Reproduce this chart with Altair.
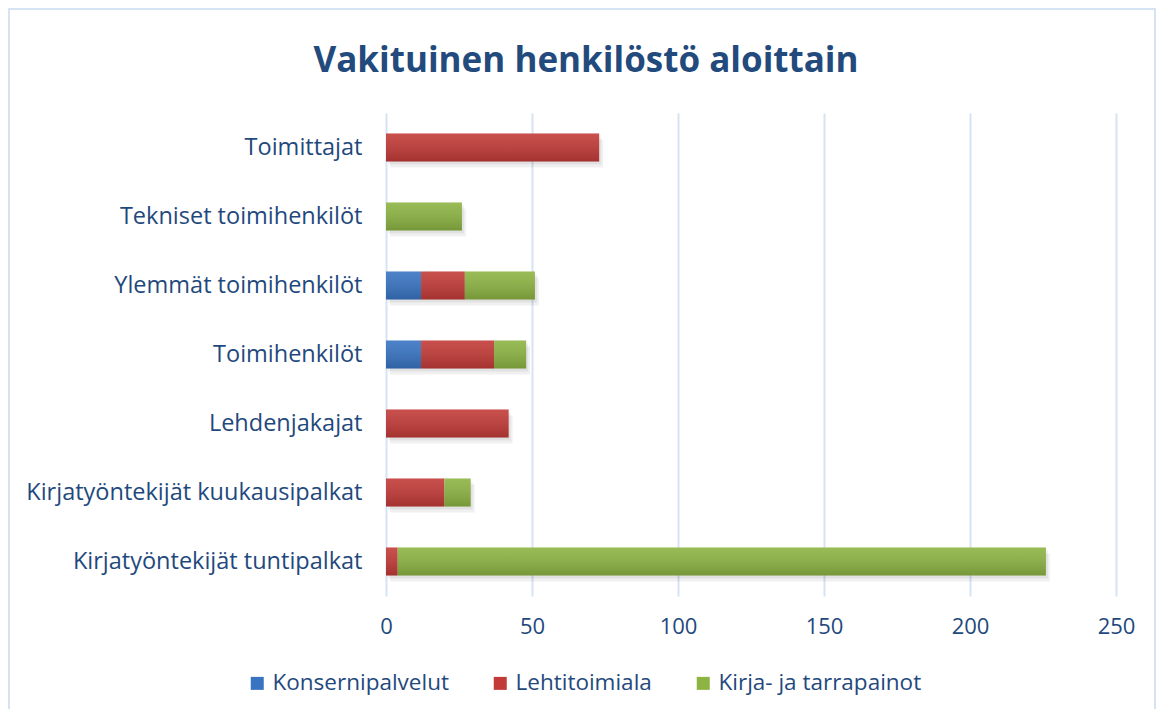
import altair as alt
import pandas as pd

title_text = "Vakituinen henkilöstö aloittain"
categories = [
    "Toimittajat",
    "Tekniset toimihenkilöt",
    "Ylemmät toimihenkilöt",
    "Toimihenkilöt",
    "Lehdenjakajat",
    "Kirjatyöntekijät kuukausipalkat",
    "Kirjatyöntekijät tuntipalkat",
]
series = ["Konsernipalvelut", "Lehtitoimiala", "Kirja- ja tarrapainot"]
konsernipalvelut = [0, 0, 12, 12, 0, 0, 0]
lehtitoimiala = [73, 0, 15, 25, 42, 20, 4]
kirja_tarrapainot = [0, 26, 24, 11, 0, 9, 222]
x_ticks = [0, 50, 100, 150, 200, 250]
colors = ["#3874C2", "#C23B38", "#8DB443"]

rows = []
for s_i, (s, vals) in enumerate(zip(series, [konsernipalvelut, lehtitoimiala, kirja_tarrapainot])):
    for c, v in zip(categories, vals):
        if v > 0:
            rows.append({"cat": c, "series": s, "value": v, "idx": s_i})
df = pd.DataFrame(rows)
totals = pd.DataFrame({
    "cat": categories,
    "total": [a + b + c for a, b, c in zip(konsernipalvelut, lehtitoimiala, kirja_tarrapainot)],
})

TXT = "#1F497D"
FONT = "Open Sans"

y_enc = alt.Y(
    "cat:N",
    sort=categories,
    title=None,
    scale=alt.Scale(paddingInner=0.594, paddingOuter=0.297),
    axis=alt.Axis(labelFontSize=23.5, labelColor=TXT, labelFont=FONT, labelPadding=24,
                  ticks=False, domain=False, labelLimit=500, grid=False),
)
x_scale = alt.Scale(domain=[0, 250], nice=False)
x_axis = alt.Axis(values=x_ticks, grid=True, gridColor="#D6E3F3", gridWidth=2,
                  labelFontSize=22, labelColor=TXT, labelFont=FONT, labelPadding=20,
                  labelFlush=False, ticks=False, domain=False)

shadow1 = alt.Chart(totals).mark_bar(color="#000000", opacity=0.06, xOffset=2, yOffset=3).encode(
    x=alt.X("total:Q", scale=x_scale, axis=x_axis, title=None),
    y=y_enc,
)
shadow2 = alt.Chart(totals).mark_bar(color="#000000", opacity=0.06, xOffset=4, yOffset=6).encode(
    x=alt.X("total:Q", scale=x_scale, axis=x_axis, title=None),
    y=y_enc,
)

bars = alt.Chart(df).mark_bar().encode(
    x=alt.X("value:Q", stack="zero", scale=x_scale, axis=x_axis, title=None),
    y=y_enc,
    color=alt.Color(
        "series:N",
        sort=series,
        scale=alt.Scale(domain=series, range=colors),
        legend=alt.Legend(
            title=None, orient="none", legendX=-140, legendY=559, direction="horizontal",
            labelFontSize=22.5, labelColor=TXT, labelFont=FONT, symbolType="square",
            symbolSize=169, symbolStrokeWidth=0, labelOffset=4, columnPadding=40,
            labelLimit=500,
        ),
    ),
    order=alt.Order("idx:Q", sort="ascending"),
)

gradient = {
    "gradient": "linear", "x1": 0, "y1": 0, "x2": 0, "y2": 1,
    "stops": [
        {"offset": 0, "color": "rgba(255,255,255,0.10)"},
        {"offset": 1, "color": "rgba(0,0,0,0.16)"},
    ],
}
overlay = alt.Chart(df).mark_bar(color=gradient).encode(
    x=alt.X("value:Q", stack="zero", scale=x_scale, axis=x_axis, title=None),
    y=y_enc,
    detail="series:N",
    order=alt.Order("idx:Q", sort="ascending"),
)

title_df = pd.DataFrame({"t": [title_text]})
title = alt.Chart(title_df).mark_text(
    font=FONT, fontSize=35, fontWeight="bold", color="#234A7C", align="center", baseline="alphabetic"
).encode(text="t:N", x=alt.value(200), y=alt.value(-41))

border = alt.Chart(title_df).mark_rect(
    fillOpacity=0, stroke="#D6E3F3", strokeWidth=2
).encode(x=alt.value(-377), x2=alt.value(769), y=alt.value(-104), y2=alt.value(640))

chart = alt.layer(border, shadow1, shadow2, bars, overlay, title).properties(
    width=730, height=483,
    autosize=alt.AutoSizeParams(type="none"),
    padding={"left": 378, "top": 105, "right": 40, "bottom": 113},
    background="white",
).configure_view(stroke=None)

chart.save("out.html", embed_options={"renderer": "svg", "actions": False})
